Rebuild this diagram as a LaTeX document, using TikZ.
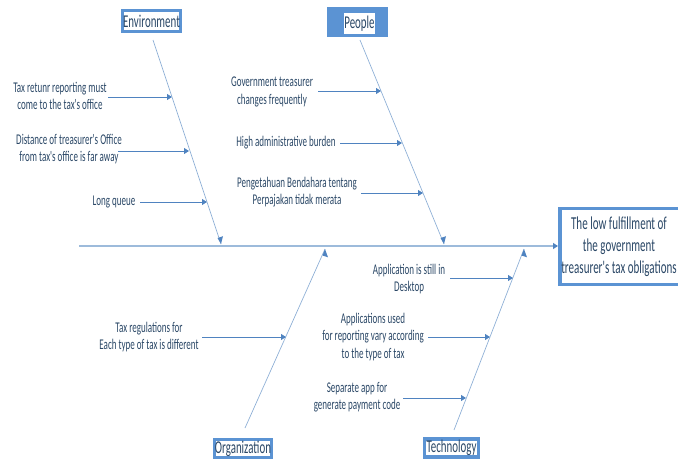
\documentclass[tikz,border=0pt]{standalone}
\usepackage{fontspec}
\usetikzlibrary{arrows.meta}
% Calibri-metric face, drawn narrow and tall
\newfontfamily\lblfont[FakeStretch=0.606]{Carlito}
\definecolor{txt}{HTML}{2A4766}
\definecolor{boxblue}{HTML}{5B93D3}
\definecolor{bone}{HTML}{8FB0D6}
\definecolor{spine}{HTML}{9DBBDB}
\definecolor{arr}{HTML}{4F83C0}
\tikzset{
  x=1pt, y=-1pt,
  cause/.style={align=center, text=txt, inner sep=0pt,
    font=\lblfont\fontsize{14.85}{17.5}\selectfont},
  catbox/.style={draw=boxblue, line width=3.5pt, text=txt, inner sep=0pt,
    font=\lblfont\fontsize{18}{20}\selectfont},
  bonestyle/.style={draw=bone, line width=0.7pt},
  subarrow/.style={draw=arr, line width=0.8pt, -{Triangle[length=5pt,width=6pt]}},
  spinestyle/.style={draw=spine, line width=1.3pt, -{Triangle[length=5pt,width=6pt,color=arr]}}
}
\begin{document}
\begin{tikzpicture}
\useasboundingbox (0,0) rectangle (678,459);

% ---- category boxes ----
\node[catbox, minimum width=58pt, minimum height=21pt] (env) at (151.5,21) {Environment};
\fill[boxblue] (327,7) rectangle (388,37);
\fill[white] (344,13) rectangle (375,34);
\node[text=txt, inner sep=0pt, font=\lblfont\fontsize{18}{20}\selectfont] (ppl) at (359.5,23.5) {People};
\node[catbox, minimum width=57pt, minimum height=18pt] (org) at (243,448.5) {Organization};
\node[catbox, minimum width=54pt, minimum height=18pt] (tech) at (451.5,448) {Technology};

% ---- effect box ----
\node[draw=boxblue, line width=3.5pt, minimum width=124pt, minimum height=76pt, inner sep=0pt] (eff) at (622,246.5) {};
\node[cause, font=\lblfont\fontsize{18.2}{22}\selectfont] (efftxt) at (619,247)
  {The low fulfillment of\\the government\\treasurer's tax obligations};

% ---- spine and bones ----
\coordinate (tail) at (79,246);
\coordinate (head) at (558,246);
\draw[spinestyle] (tail) -- (head);

\coordinate (envS) at (153,40);  \coordinate (envE) at (221,244);
\coordinate (pplS) at (360,40);  \coordinate (pplE) at (444,244);
\coordinate (orgS) at (245,428); \coordinate (orgE) at (325,249);
\coordinate (tecS) at (454,430); \coordinate (tecE) at (524,249);
\draw[bonestyle] (envS) -- (envE);
\draw[bonestyle] (pplS) -- (pplE);
\draw[bonestyle] (orgS) -- (orgE);
\draw[bonestyle] (tecS) -- (tecE);
\fill[arr] (envE) -- ++(-3.5,-6) -- ++(5.5,-1.8) -- cycle;
\fill[arr] (pplE) -- ++(-3.5,-6) -- ++(5.5,-1.8) -- cycle;
\fill[arr] (orgE) -- ++(-2.5,6.5) -- ++(5.5,1.8) -- cycle;
\fill[arr] (tecE) -- ++(-2.5,6.5) -- ++(5.5,1.8) -- cycle;

% ---- Environment causes ----
\node[cause] (e1) at (60,96) {Tax retunr reporting must\\come to the tax's office};
\node[cause] (e2) at (69,149) {Distance of treasurer's Office\\from tax's office is far away};
\node[cause] (e3) at (114,202) {Long queue};
\coordinate (e1a) at (108,97);  \coordinate (e1b) at (172,97);
\coordinate (e2a) at (118,151); \coordinate (e2b) at (189,151);
\coordinate (e3a) at (140,202); \coordinate (e3b) at (207,202);
\draw[subarrow] (e1a) -- (e1b);
\draw[subarrow] (e2a) -- (e2b);
\draw[subarrow] (e3a) -- (e3b);

% ---- People causes ----
\node[cause] (p1) at (272,92) {Government treasurer\\changes frequently};
\node[cause] (p2) at (286,143) {High administrative burden};
\node[cause] (p3) at (297,192) {Pengetahuan Bendahara tentang\\Perpajakan tidak merata};
\coordinate (p1a) at (318,91);  \coordinate (p1b) at (381,91);
\coordinate (p2a) at (340,143); \coordinate (p2b) at (402,143);
\coordinate (p3a) at (361,193); \coordinate (p3b) at (423,193);
\draw[subarrow] (p1a) -- (p1b);
\draw[subarrow] (p2a) -- (p2b);
\draw[subarrow] (p3a) -- (p3b);

% ---- Organization causes ----
\node[cause] (o1) at (149,337) {Tax regulations for\\Each type of tax is different};
\coordinate (o1a) at (202,337); \coordinate (o1b) at (286,337);
\draw[subarrow] (o1a) -- (o1b);

% ---- Technology causes ----
\node[cause] (t1) at (409,279) {Application is still in\\Desktop};
\node[cause] (t2) at (373,337) {Applications used\\for reporting vary according\\to the type of tax};
\node[cause] (t3) at (357,397) {Separate app for\\generate payment code};
\coordinate (t1a) at (450,278); \coordinate (t1b) at (513,278);
\coordinate (t2a) at (428,337); \coordinate (t2b) at (490,337);
\coordinate (t3a) at (403,398); \coordinate (t3b) at (466,398);
\draw[subarrow] (t1a) -- (t1b);
\draw[subarrow] (t2a) -- (t2b);
\draw[subarrow] (t3a) -- (t3b);
\end{tikzpicture}
\end{document}
